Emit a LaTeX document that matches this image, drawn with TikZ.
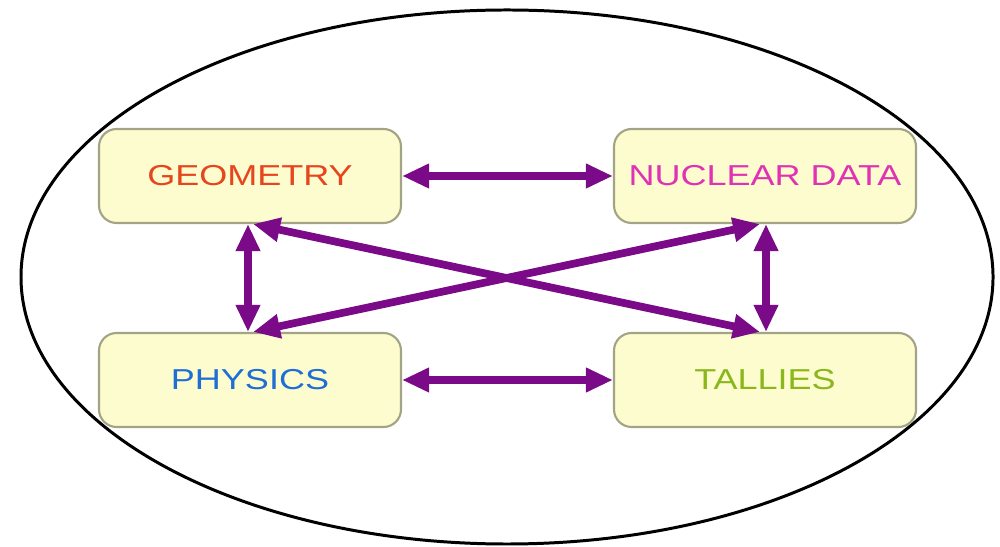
\documentclass[tikz,border=0pt]{standalone}
\usepackage{fontspec}
\usepackage{xcolor}
\usepackage{tikz}
\usetikzlibrary{arrows.meta}
\newfontfamily\boxfont[FakeStretch=1.25]{Liberation Sans}
\definecolor{cfill}{HTML}{FDFCCF}
\definecolor{cedge}{HTML}{A3A385}
\definecolor{clink}{HTML}{7A0A88}
\definecolor{cgeo}{HTML}{E6451E}
\definecolor{cnuc}{HTML}{E033B4}
\definecolor{cphys}{HTML}{1F6ED6}
\definecolor{ctally}{HTML}{8BB71E}

\begin{document}
\begin{tikzpicture}[
  box/.style={draw=cedge,fill=cfill,line width=0.6pt,rounded corners=5pt,
    minimum width=3.02cm,minimum height=0.94cm,
    font=\boxfont\fontsize{8.2}{10}\selectfont},
  link/.style={draw=clink,line width=2.2pt,
    {Triangle[length=0.27cm,width=0.23cm]}-{Triangle[length=0.27cm,width=0.23cm]}}]
  \useasboundingbox (0,0) rectangle (10,5.46);
  \draw[line width=0.85pt] (5.07,2.69) ellipse (4.86cm and 2.67cm);
  \node[box,text=cgeo] (geo) at (2.50,3.70) {GEOMETRY};
  \node[box,text=cnuc] (nuc) at (7.65,3.70) {NUCLEAR DATA};
  \node[box,text=cphys] (phys) at (2.50,1.66) {PHYSICS};
  \node[box,text=ctally] (tally) at (7.65,1.66) {TALLIES};
  % horizontal links
  \draw[link] (geo.east) -- (nuc.west);
  \draw[link] (phys.east) -- (tally.west);
  % vertical links
  \draw[link] ([xshift=-0.02cm]geo.south) -- ([xshift=-0.02cm]phys.north);
  \draw[link] ([xshift=0.01cm]nuc.south) -- ([xshift=0.01cm]tally.north);
  % cross links
  \draw[link] ([xshift=0.03cm]geo.south) -- ([xshift=-0.05cm]tally.north);
  \draw[link] ([xshift=0.03cm]phys.north) -- ([xshift=-0.05cm]nuc.south);
\end{tikzpicture}
\end{document}
